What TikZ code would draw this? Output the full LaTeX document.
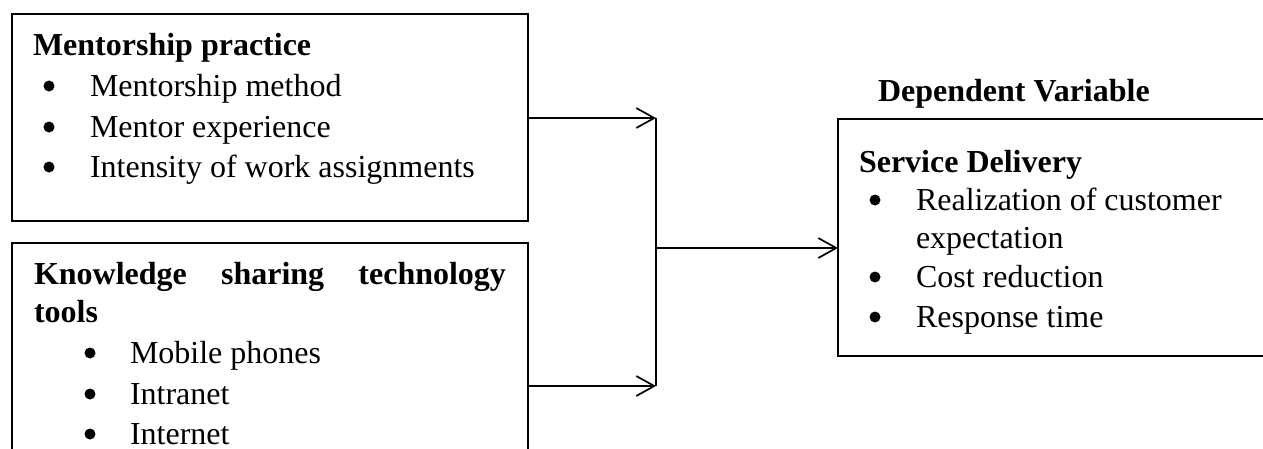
\documentclass[tikz,border=0pt]{standalone}
\usepackage{fontspec}
\setmainfont{Liberation Serif}
\usetikzlibrary{arrows.meta}
\begin{document}
\begin{tikzpicture}[x=1pt,y=-1pt,
  box/.style={draw,line width=2.2pt,inner sep=0pt,outer sep=0pt,anchor=north west},
  txt/.style={anchor=base west,inner sep=0pt,outer sep=0pt,font=\fontsize{32}{40}\selectfont},
  ttl/.style={anchor=base west,inner sep=0pt,outer sep=0pt,font=\fontsize{32}{40}\selectfont\bfseries},
  dot/.style={circle,fill=black,inner sep=0pt,minimum size=11pt},
  conn/.style={line width=1.7pt},
  arr/.style={conn,-{Straight Barb[length=18pt,width=20pt]}}]
\useasboundingbox (0,0) rectangle (1263,448);
% boxes
\node[box,minimum width=516pt,minimum height=207pt] (b1) at (12,14) {};
\node[box,minimum width=516pt,minimum height=230pt] (b2) at (12,243) {};
\node[box,minimum width=432pt,minimum height=237pt] (b3) at (838,119) {};
% box 1 text
\node[ttl] (t1) at (33,55) {Mentorship practice};
\node[dot] (b1i1) at (49,86) {};
\node[dot] (b1i2) at (49,127) {};
\node[dot] (b1i3) at (49,167) {};
\node[txt] (i1a) at (90,96) {Mentorship method};
\node[txt] (i1b) at (90,137) {Mentor experience};
\node[txt] (i1c) at (90,177) {Intensity of work assignments};
% box 2 text
\node[ttl] (t2) at (34,284) {\makebox[472pt][s]{Knowledge\hfill sharing\hfill technology}};
\node[ttl] (t2b) at (34,322) {tools};
\node[dot] (b2i1) at (90,353) {};
\node[dot] (b2i2) at (90,394) {};
\node[dot] (b2i3) at (90,434) {};
\node[txt] (i2a) at (130,363) {Mobile phones};
\node[txt] (i2b) at (130,404) {Intranet};
\node[txt] (i2c) at (130,444) {Internet};
% box 3 text
\node[ttl] (dv) at (878,101) {Dependent Variable};
\node[ttl] (t3) at (859,172) {Service Delivery};
\node[dot] (b3i1) at (875,200) {};
\node[dot] (b3i2) at (875,277) {};
\node[dot] (b3i3) at (875,317) {};
\node[txt] (i3a) at (916,210) {Realization of customer};
\node[txt] (i3a2) at (916,248) {expectation};
\node[txt] (i3b) at (916,287) {Cost reduction};
\node[txt] (i3c) at (916,327) {Response time};
% connectors
\coordinate (j1) at (656,118);
\coordinate (j2) at (656,386);
\coordinate (jm) at (656,248);
\draw[arr] (b1.east |- j1) -- (j1);
\draw[arr] (b2.east |- j2) -- (j2);
\draw[conn] (j1) -- (j2);
\draw[arr] (jm) -- (b3.west |- jm);
\end{tikzpicture}
\end{document}
